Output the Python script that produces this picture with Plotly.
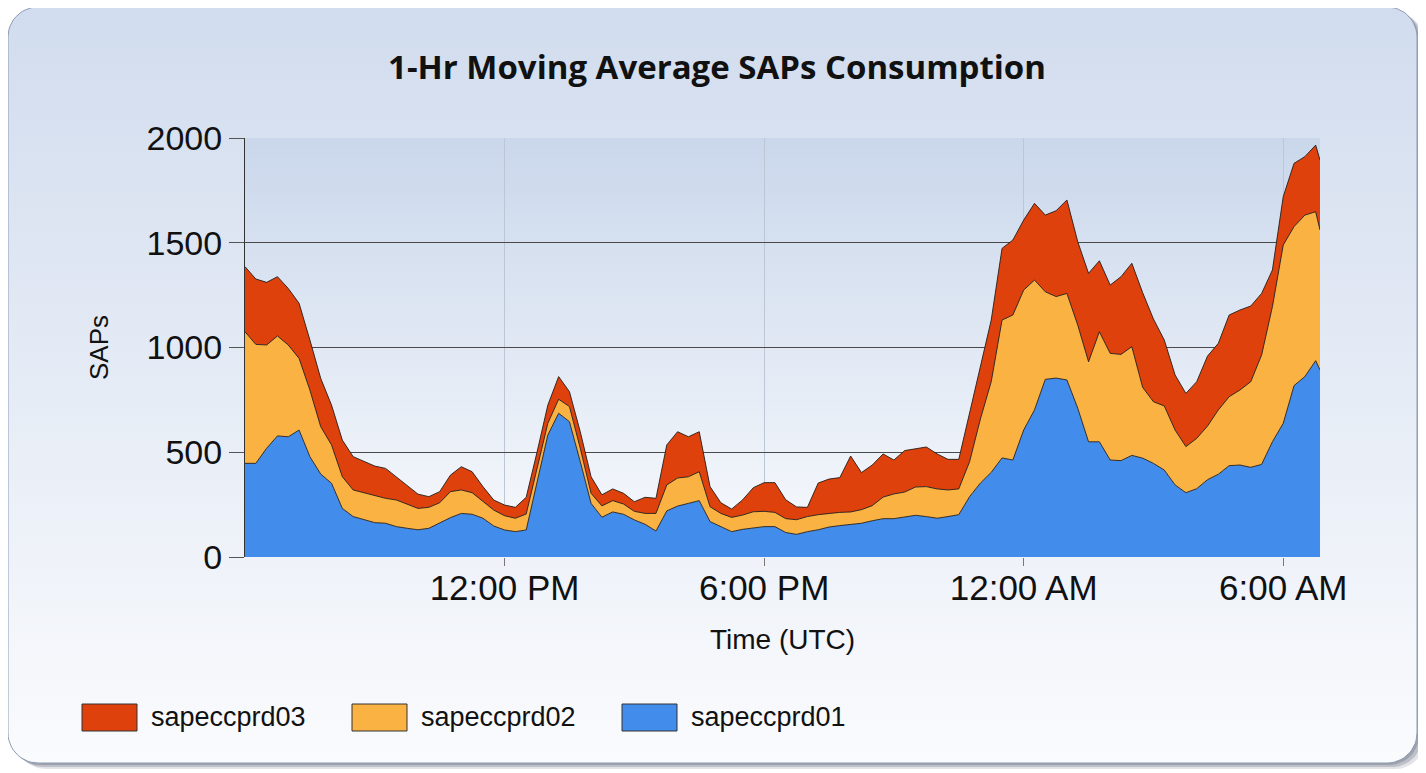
import numpy as np
import pandas as pd
import plotly.graph_objects as go

# the page body adds an 8px margin, so the figure is drawn 8px smaller and all
# pixel positions below are given in screen coordinates and shifted by OFF
OFF = 8
W, H = 1426 - OFF, 773 - OFF

# ── data: 1-hr moving average, sampled every 15 min from 06:00 (last point 06:51 next day) ──
start = pd.Timestamp("2020-01-14 06:00")
times = list(pd.date_range(start, periods=100, freq="15min")) + [start + pd.Timedelta(hours=24, minutes=51)]

sapeccprd01 = [
    447, 447, 519, 578, 574, 606, 479, 396, 352, 232,
    193, 180, 164, 161, 145, 137, 130, 137, 161, 188,
    208, 204, 185, 148, 129, 121, 129, 352, 582, 686,
    646, 455, 256, 190, 215, 204, 177, 156, 124, 220,
    243, 256, 269, 169, 145, 121, 132, 138, 145, 145,
    117, 108, 121, 130, 143, 150, 156, 161, 173, 183,
    183, 191, 199, 193, 185, 193, 202, 288, 353, 404,
    473, 463, 606, 702, 848, 854, 845, 710, 550, 550,
    463, 460, 485, 472, 447, 415, 344, 307, 326, 369,
    395, 436, 439, 428, 442, 550, 638, 818, 861, 937,
    893,
]
sapeccprd02 = [
    628, 568, 493, 477, 438, 342, 318, 226, 183, 151,
    127, 127, 127, 119, 127, 116, 102, 100, 98, 124,
    112, 103, 79, 76, 68, 64, 76, 68, 56, 67,
    72, 64, 48, 54, 54, 49, 41, 52, 84, 124,
    134, 127, 138, 71, 63, 68, 68, 78, 73, 68,
    66, 70, 72, 72, 65, 63, 59, 65, 72, 103,
    118, 119, 135, 143, 140, 127, 123, 167, 306, 433,
    658, 692, 668, 620, 418, 389, 413, 397, 382, 525,
    509, 507, 519, 338, 294, 306, 262, 220, 240, 256,
    307, 329, 358, 409, 522, 645, 851, 759, 771, 711,
    668,
]
sapeccprd03 = [
    311, 312, 299, 283, 270, 263, 239, 231, 190, 175,
    159, 148, 143, 143, 111, 91, 68, 51, 53, 79,
    111, 100, 72, 48, 51, 52, 80, 80, 87, 108,
    71, 79, 79, 53, 56, 51, 46, 77, 72, 191,
    221, 191, 191, 96, 51, 40, 72, 115, 137, 142,
    90, 61, 44, 151, 164, 166, 267, 177, 194, 206,
    162, 198, 181, 189, 167, 146, 141, 231, 257, 294,
    342, 358, 334, 366, 366, 410, 446, 398, 422, 339,
    326, 371, 398, 452, 395, 315, 263, 254, 271, 334,
    318, 390, 382, 361, 294, 175, 231, 302, 279, 318,
    334,
]

series = [
    ("sapeccprd01", sapeccprd01, "#428CEB"),
    ("sapeccprd02", sapeccprd02, "#FAB242"),
    ("sapeccprd03", sapeccprd03, "#DE410B"),
]

x_ticks = [pd.Timestamp("2020-01-14 12:00"), pd.Timestamp("2020-01-14 18:00"),
           pd.Timestamp("2020-01-15 00:00"), pd.Timestamp("2020-01-15 06:00")]
x_ticktext = ["12:00 PM", "6:00 PM", "12:00 AM", "6:00 AM"]
y_ticks = [0, 500, 1000, 1500, 2000]

# plot area in screen pixels (top-down)
PL, PR, PT, PB = 245, 1320, 138, 557


def fx(x):
    return x - OFF


def fy(y):
    return H - (y - OFF)


def rounded_rect(x0, y0, x1, y1, r, n=14):
    pts = []
    for cx, cy, a0, a1 in [(x1 - r, y0 + r, -90, 0), (x1 - r, y1 - r, 0, 90),
                           (x0 + r, y1 - r, 90, 180), (x0 + r, y0 + r, 180, 270)]:
        for a in np.radians(np.linspace(a0, a1, n)):
            pts.append((cx + r * np.cos(a), cy + r * np.sin(a)))
    pts.append(pts[0])
    return [fx(p[0]) for p in pts], [fy(p[1]) for p in pts]


fig = go.Figure()

# ── card background (pixel axes x/y) ──
for dx, dy, a in [(8, 6, 0.16), (5, 4, 0.26), (2, 2, 0.30)]:
    sx, sy = rounded_rect(8 + dx, 7 + dy, 1417 + dx, 763 + dy, 30)
    fig.add_trace(go.Scatter(x=sx, y=sy, fill="toself", mode="lines", line=dict(width=0),
                             fillcolor=f"rgba(80,90,110,{a})", hoverinfo="skip", showlegend=False))
cx, cy = rounded_rect(8, 7, 1417, 763, 30)
fig.add_trace(go.Scatter(x=cx, y=cy, fill="toself", mode="lines",
                         line=dict(color="#8d9db5", width=1),
                         fillgradient=dict(type="vertical",
                                           colorscale=[[0, "#fafbfd"], [1, "#d1dcee"]]),
                         hoverinfo="skip", showlegend=False))
fig.add_trace(go.Scatter(x=[fx(PL), fx(PR), fx(PR), fx(PL), fx(PL)],
                         y=[fy(PT), fy(PT), fy(PB), fy(PB), fy(PT)],
                         fill="toself", mode="lines", line=dict(width=0),
                         fillgradient=dict(type="vertical",
                                           colorscale=[[0, "#f8fafd"], [1, "#cad7eb"]]),
                         hoverinfo="skip", showlegend=False))

# ── stacked areas ──
for name, vals, color in series:
    fig.add_trace(go.Scatter(
        x=times, y=vals, name=name, mode="lines", stackgroup="one",
        line=dict(color="rgba(35,30,25,0.9)", width=1), fillcolor=color,
        xaxis="x2", yaxis="y2", showlegend=False,
        hovertemplate=name + ": %{y:.0f}<extra></extra>",
    ))

# ── hand-drawn legend (red, orange, blue) ──
legend_items = [("sapeccprd03", "#DE410B", 82), ("sapeccprd02", "#FAB242", 352), ("sapeccprd01", "#428CEB", 622)]
for name, color, lx in legend_items:
    fig.add_shape(type="rect", xref="x", yref="y", x0=fx(lx), x1=fx(lx + 55), y0=fy(704), y1=fy(731),
                  fillcolor=color, line=dict(color="#333333", width=1))
    fig.add_annotation(x=fx(lx + 67), y=fy(717), xref="x", yref="y", text=name, showarrow=False,
                       xanchor="left", yanchor="middle",
                       font=dict(family="Liberation Sans, Arial, sans-serif", size=27, color="#111111"))

label_font = "Liberation Sans, Arial, sans-serif"

fig.update_layout(
    width=W, height=H,
    margin=dict(l=0, r=0, t=0, b=0, autoexpand=False),
    paper_bgcolor="white", plot_bgcolor="rgba(0,0,0,0)",
    title=dict(text="<b>1-Hr Moving Average SAPs Consumption</b>", x=0.5, xanchor="center",
               y=fy(67) / H, yanchor="middle", automargin=False,
               font=dict(family="Open Sans, sans-serif", size=33, color="#111111")),
    xaxis=dict(domain=[0, 1], range=[0, W], visible=False, fixedrange=True, automargin=False),
    yaxis=dict(domain=[0, 1], range=[0, H], visible=False, fixedrange=True, automargin=False),
    xaxis2=dict(
        domain=[fx(PL) / W, fx(PR) / W], anchor="y2", type="date", automargin=False,
        range=[times[0], times[-1]],
        tickvals=x_ticks, ticktext=x_ticktext,
        tickfont=dict(family=label_font, size=35, color="#111111"),
        ticks="outside", ticklen=8, tickcolor="#777777", ticklabelstandoff=-8,
        showgrid=True, gridcolor="#bcc6d4", gridwidth=1,
        showline=False, zeroline=False,
        title=dict(text="Time (UTC)", standoff=23,
                   font=dict(family=label_font, size=28, color="#111111")),
    ),
    yaxis2=dict(
        domain=[fy(PB) / H, fy(PT) / H], anchor="x2", automargin=False,
        range=[0, 2000], tickvals=y_ticks,
        tickfont=dict(family=label_font, size=34, color="#111111"),
        ticks="outside", ticklen=15, tickcolor="#555555",
        showgrid=True, gridcolor="#4a4a4a", gridwidth=1,
        showline=True, linecolor="#333333", linewidth=1, zeroline=False,
        title=dict(text="SAPs", standoff=30,
                   font=dict(family=label_font, size=26, color="#111111")),
    ),
)

fig.write_html("out.html")
